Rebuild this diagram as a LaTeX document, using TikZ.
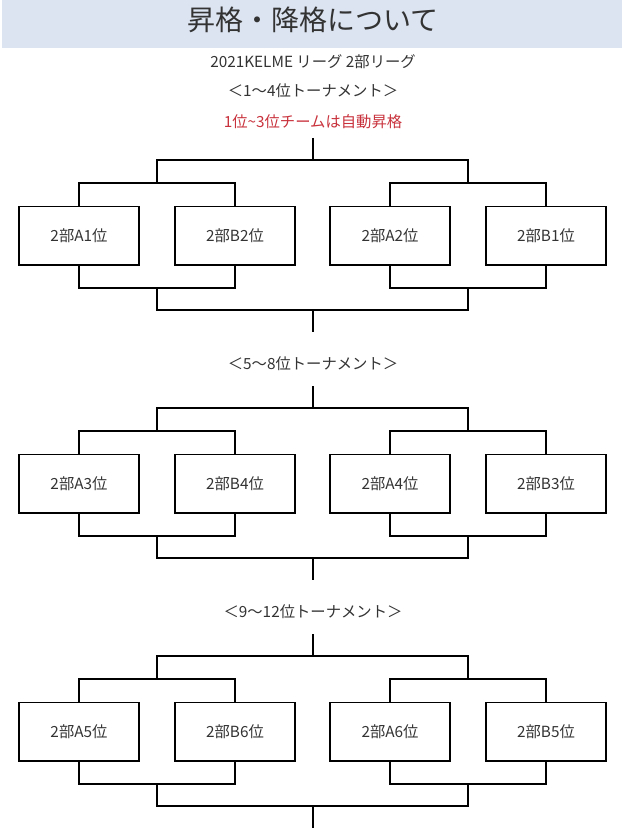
\documentclass[tikz,border=0pt]{standalone}
\usepackage{fontspec}
\setmainfont{Noto Sans CJK JP}
\usetikzlibrary{calc}
\definecolor{bandblue}{HTML}{DCE4F1}
\definecolor{inkgray}{HTML}{333333}
\definecolor{promred}{HTML}{C8323C}
\tikzset{
  team/.style={draw=black,line width=1pt,minimum width=90pt,minimum height=44pt,
    inner sep=0pt,font=\fontsize{11.5}{13}\selectfont,text=inkgray},
  caption/.style={font=\fontsize{11.5}{13}\selectfont,text=inkgray},
  bracket/.style={line width=1pt}
}
\begin{document}
\begin{tikzpicture}[x=0.75pt,y=-0.75pt]
	\useasboundingbox (0,0) rectangle (628,831);
	
	\fill[bandblue] (2,0) rectangle (622,48);
	\node[font=\fontsize{21}{24}\selectfont,text=inkgray] (title) at (313,20) {昇格・降格について};
	\node[caption] (league) at (313,62) {2021KELME リーグ 2部リーグ};
	\node[caption,text=promred] (promo) at (313,122) {1位\textasciitilde3位チームは自動昇格};
	
	% three tournaments, 248px apart
	\foreach \s/\head/\ta/\tb/\tc/\td in {0/＜1〜4位トーナメント＞/A1/B2/A2/B1,1/＜5〜8位トーナメント＞/A3/B4/A4/B3,2/＜9〜12位トーナメント＞/A5/B6/A6/B5}{
		\pgfmathsetmacro{\dy}{248*\s}
		\pgfmathsetmacro{\hy}{\s==0 ? 91 : 116+\dy}
		\node[caption] (head\s) at (313,\hy) {\head};
		\node[team] (t\s a) at (79,235.5+\dy) {2部\ta 位};
		\node[team] (t\s b) at (235,235.5+\dy) {2部\tb 位};
		\node[team] (t\s c) at (390,235.5+\dy) {2部\tc 位};
		\node[team] (t\s d) at (546,235.5+\dy) {2部\td 位};
		\coordinate (top\s) at (313,138+\dy);
		\coordinate (bot\s) at (313,332+\dy);
		% upper bracket
		\draw[bracket] (t\s a.north) -- (79,183+\dy) -| (t\s b.north);
		\draw[bracket] (t\s c.north) -- (390,183+\dy) -| (t\s d.north);
		\draw[bracket] (157,183+\dy) -- (157,160+\dy) -- (468,160+\dy) -- (468,183+\dy);
		\draw[bracket] (top\s) -- (313,160+\dy);
		% lower bracket
		\draw[bracket] (t\s a.south) -- (79,288+\dy) -| (t\s b.south);
		\draw[bracket] (t\s c.south) -- (390,288+\dy) -| (t\s d.south);
		\draw[bracket] (157,288+\dy) -- (157,310+\dy) -- (468,310+\dy) -- (468,288+\dy);
		\draw[bracket] (313,310+\dy) -- (bot\s);
	}
\end{tikzpicture}
\end{document}
